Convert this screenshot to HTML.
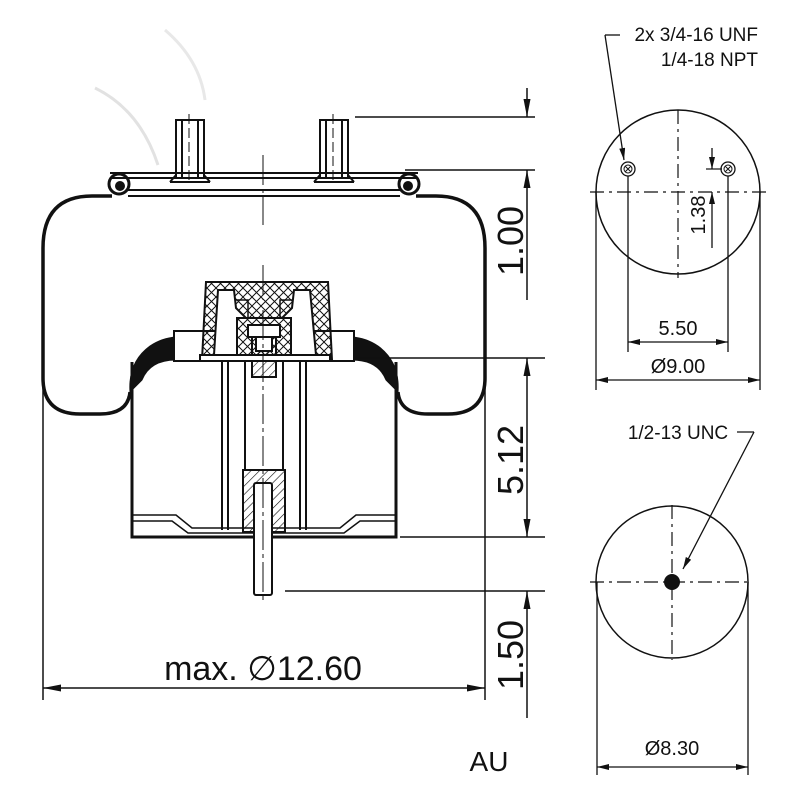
<!DOCTYPE html>
<html><head><meta charset="utf-8"><style>html,body{margin:0;padding:0;background:#fff}svg{display:block}text{font-family:"Liberation Sans",sans-serif;fill:#111}</style></head>
<body>
<svg width="800" height="800" viewBox="0 0 800 800" xmlns="http://www.w3.org/2000/svg">
<defs>
<marker id="a" viewBox="0 0 18 7" refX="18" refY="3.5" markerWidth="18" markerHeight="7" orient="auto-start-reverse" markerUnits="userSpaceOnUse"><path d="M0,0 L18,3.5 L0,7z" fill="#111"/></marker>
<marker id="b" viewBox="0 0 12 6" refX="12" refY="3" markerWidth="12" markerHeight="6" orient="auto-start-reverse" markerUnits="userSpaceOnUse"><path d="M0,0 L12,3 L0,6z" fill="#111"/></marker>
<pattern id="h" width="6" height="6" patternUnits="userSpaceOnUse" patternTransform="rotate(45)"><line x1="0" y1="0" x2="0" y2="6" stroke="#111" stroke-width="1.2"/></pattern>
<pattern id="x" width="9" height="9" patternUnits="userSpaceOnUse"><path d="M0,0 L9,9 M9,0 L0,9" stroke="#111" stroke-width="1"/></pattern>
</defs>
<g fill="none" stroke="#111">
<path d="M95,88 Q140,110 158,165" stroke="#e2e2e2" stroke-width="3"/>
<path d="M165,30 Q200,60 205,100" stroke="#e8e8e8" stroke-width="3"/>
<path d="M112,196 L92,196 Q43,196 43,248 L43,378 Q43,414 80,414 L100,414 Q128,414 130,392" stroke-width="3.5"/>
<path d="M416,196 L436,196 Q485,196 485,248 L485,378 Q485,414 448,414 L428,414 Q400,414 398,392" stroke-width="3.5"/>
<path d="M130,392 Q128,362 150,346 Q162,338 176,337 L176,360 Q150,360 142,380 Z" fill="#111" stroke-width="1"/>
<path d="M398,392 Q400,362 378,346 Q366,338 352,337 L352,360 Q378,360 386,380 Z" fill="#111" stroke-width="1"/>
<rect x="174" y="331" width="180" height="30" stroke-width="2" fill="#fff"/>
<path d="M110,173 L418,173 M110,178 L418,178" stroke-width="2"/>
<path d="M128,190 L400,190 M128,196 L400,196" stroke-width="2"/>
<circle cx="119" cy="184" r="10" stroke-width="3"/>
<circle cx="120" cy="186" r="5" fill="#111" stroke-width="0"/>
<circle cx="409" cy="184" r="10" stroke-width="3"/>
<circle cx="408" cy="186" r="5" fill="#111" stroke-width="0"/>
<g stroke-width="2">
<rect x="176" y="120" width="28" height="58"/><line x1="170" y1="182" x2="210" y2="182"/><line x1="170" y1="182" x2="176" y2="175"/><line x1="210" y1="182" x2="204" y2="175"/>
<line x1="182" y1="120" x2="182" y2="178"/><line x1="198" y1="120" x2="198" y2="178"/>
<rect x="320" y="120" width="28" height="58"/><line x1="314" y1="182" x2="354" y2="182"/><line x1="314" y1="182" x2="320" y2="175"/><line x1="354" y1="182" x2="348" y2="175"/>
<line x1="326" y1="120" x2="326" y2="178"/><line x1="342" y1="120" x2="342" y2="178"/>
</g>
<path d="M189,114 V182 M333,114 V182" stroke-width="1" stroke-dasharray="10,4"/>
<path d="M132,362 L132,537 L396,537 L396,362" stroke-width="3"/>
<path d="M132,515 L176,515 L192,528 L340,528 L356,515 L396,515" stroke-width="1.5"/>
<path d="M132,521 L172,521 L188,533 L344,533 L360,521 L396,521" stroke-width="1.5"/>
<path d="M222,362 V530 M228,362 V530 M300,362 V530 M306,362 V530" stroke-width="2"/>
<path d="M245,362 V470 M283,362 V470" stroke-width="2"/>
<rect x="243" y="470" width="42" height="62" fill="url(#h)" stroke-width="2"/>
<rect x="254" y="483" width="18" height="112" fill="#fff" stroke-width="2" rx="2"/>
<path d="M202,360 L206,282 L328,282 L332,360 Z" fill="url(#x)" stroke-width="2"/>
<path d="M214,355 L218,290 L234,290 L236,308 L246,318 L282,318 L292,308 L294,290 L310,290 L316,355 Z" fill="#fff" stroke-width="2"/>
<path d="M236,300 L248,300 L248,318 M292,300 L280,300 L280,318" stroke-width="1.5"/>
<rect x="237" y="318" width="54" height="42" fill="url(#x)" stroke-width="2"/>
<rect x="248" y="325" width="32" height="12" fill="#fff" stroke-width="2"/>
<rect x="252" y="337" width="24" height="40" fill="url(#h)" stroke-width="2"/>
<rect x="256" y="337" width="16" height="14" fill="#fff" stroke-width="2"/>
<rect x="200" y="355" width="130" height="6" fill="#fff" stroke-width="2"/>
<path d="M263,155 V225 M263,265 V300 M263,310 V600" stroke-width="1" stroke-dasharray="30,4,4,4"/>
<path d="M43,380 V700 M485,360 V700" stroke-width="1.5"/>
<path d="M355,117 H535 M405,170 H535 M355,358 H545 M400,537 H545 M285,591 H545" stroke-width="1.5"/>
<line x1="527" y1="88" x2="527" y2="117" stroke-width="1.5" marker-end="url(#a)"/>
<line x1="527" y1="300" x2="527" y2="170" stroke-width="1.5" marker-end="url(#a)"/>
<line x1="527" y1="358" x2="527" y2="537" stroke-width="1.5" marker-start="url(#a)" marker-end="url(#a)"/>
<line x1="527" y1="718" x2="527" y2="591" stroke-width="1.5" marker-end="url(#a)"/>
<line x1="43" y1="688" x2="485" y2="688" stroke-width="1.5" marker-start="url(#a)" marker-end="url(#a)"/>
</g>
<text x="263" y="680" font-size="34" text-anchor="middle">max. ∅12.60</text>
<text transform="translate(523,241) rotate(-90)" font-size="36" text-anchor="middle">1.00</text>
<text transform="translate(523,460) rotate(-90)" font-size="36" text-anchor="middle">5.12</text>
<text transform="translate(523,655) rotate(-90)" font-size="36" text-anchor="middle">1.50</text>
<text x="489" y="771" font-size="28" text-anchor="middle">AU</text>

<g fill="none" stroke="#111">
<circle cx="678" cy="192" r="82" stroke-width="1.5"/>
<path d="M590,192 H766 M678,110 V278" stroke-width="1.2" stroke-dasharray="14,5,3,5"/>
<circle cx="628" cy="169" r="7" stroke-width="1.3"/><circle cx="628" cy="169" r="4" stroke-width="1"/>
<path d="M625,166 l6,6 M631,166 l-6,6" stroke-width="1"/>
<circle cx="728" cy="169" r="7" stroke-width="1.3"/><circle cx="728" cy="169" r="4" stroke-width="1"/>
<path d="M725,166 l6,6 M731,166 l-6,6" stroke-width="1"/>
<path d="M628,176 V352 M728,176 V352 M596,192 V390 M760,192 V390" stroke-width="1.3"/>
<line x1="628" y1="342" x2="728" y2="342" stroke-width="1.3" marker-start="url(#b)" marker-end="url(#b)"/>
<line x1="596" y1="380" x2="760" y2="380" stroke-width="1.3" marker-start="url(#b)" marker-end="url(#b)"/>
<path d="M706,169 H722" stroke-width="1.2"/>
<line x1="712" y1="148" x2="712" y2="169" stroke-width="1.3" marker-end="url(#b)"/>
<line x1="712" y1="248" x2="712" y2="192" stroke-width="1.3" marker-end="url(#b)"/>
<path d="M620,35 H605" stroke-width="1.3"/>
<line x1="605" y1="35" x2="624" y2="160" stroke-width="1.3" marker-end="url(#b)"/>
</g>
<text x="758" y="41" font-size="19" text-anchor="end">2x 3/4-16 UNF</text>
<text x="758" y="66" font-size="19" text-anchor="end">1/4-18 NPT</text>
<text x="678" y="335" font-size="20" text-anchor="middle">5.50</text>
<text x="678" y="373" font-size="20" text-anchor="middle">Ø9.00</text>
<text transform="translate(705,215) rotate(-90)" font-size="20" text-anchor="middle">1.38</text>

<g fill="none" stroke="#111">
<circle cx="672" cy="582" r="76" stroke-width="1.5"/>
<path d="M590,582 H752 M672,505 V660" stroke-width="1.2" stroke-dasharray="14,5,3,5"/>
<circle cx="672" cy="582" r="8" fill="#111" stroke="none"/>
<path d="M597,582 V775 M748,582 V775" stroke-width="1.3"/>
<line x1="597" y1="767" x2="748" y2="767" stroke-width="1.3" marker-start="url(#b)" marker-end="url(#b)"/>
<path d="M737,432 H754" stroke-width="1.3"/>
<line x1="754" y1="432" x2="683" y2="569" stroke-width="1.3" marker-end="url(#b)"/>
</g>
<text x="678" y="439" font-size="19" text-anchor="middle">1/2-13 UNC</text>
<text x="672" y="755" font-size="20" text-anchor="middle">Ø8.30</text>
</svg>
</body></html>
